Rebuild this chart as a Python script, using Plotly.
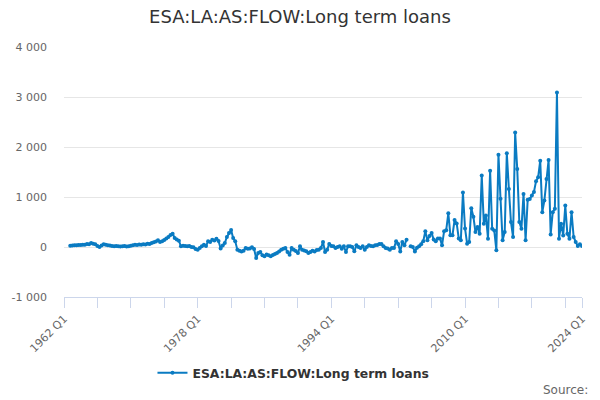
import pandas as pd
import plotly.graph_objs as go


series_name = 'ESA:LA:AS:FLOW:Long term loans'
start_quarter = '1962Q4'

# quarterly flows, 1962 Q4 .. 2024 Q1 (None = missing quarter)
long_term_loans = [
    27, 30, 33, 35, 40, 38, 45, 47, 60, 55, 80, 65, 53, 20, 0, 30, 53, 45, 35, 30,
    20, 13, 20, 15, 10, 13, 20, 10, 13, 25, 35, 47, 40, 50, 47, 55, 50, 67, 60, 80,
    93, 110, 133, 100, 113, 140, 170, 200, 240, 267, 180, 150, 127, 13, 27, 20, 13, 20, 0, -7,
    -40, -53, -20, 13, 47, 20, 113, 100, 147, 130, 167, 120, -30, 30, 80, 200, 280, 340, 180, 113,
    -53, -73, -90, -73, -20, -33, -30, -7, -40, -220, -120, -100, -167, -187, -150, -167, -187, -160, -140, -120,
    -90, -53, -33, -20, -100, -153, -20, -53, -80, -120, 13, -53, -70, -87, -120, -100, -73, -90, -60, -53,
    -20, 100, -100, -53, 60, 20, 13, -20, 0, 13, -33, 13, -100, 13, 13, 0, -87, 33, 0, -20,
    13, -53, 0, 33, 20, 13, 33, 40, 60, 60, 13, -20, -30, -53, -20, -20, 113, 60, -90, 100,
    33, 147, None, 13, 0, -90, -13, 13, 54, 115, 317, 135, 220, 280, 150, 115, 170, 170, 34, 317,
    337, 675, 236, 236, 540, 472, 170, 135, 1090, 371, 67, 100, 776, 607, 300, 400, 266, 1428, 465, 630,
    166, 1527, 365, 332, -66, 1846, 963, 133, 300, 1873, 1162, 500, 200, 2290, 1560, 500, 365, 1062, 133, 943,
    960, 1030, 1100, 1315, 1394, 1726, 697, 930, 1361, 1740, 252, 697, 763, 3088, 166, 465, 232, 830, 266, 166,
    697, 200, 100, 20, 53, 20,
]

quarters = pd.period_range(start_quarter, periods=len(long_term_loans), freq='Q').to_timestamp()

x_tick_dates = ['1962-01-01', '1978-01-01', '1994-01-01', '2010-01-01', '2024-01-01']
x_tick_labels = ['1962 Q1', '1978 Q1', '1994 Q1', '2010 Q1', '2024 Q1']
x_minor_dates = ['%d-01-01' % y for y in range(1966, 2024, 4)]
y_tick_values = [-1000, 0, 1000, 2000, 3000, 4000]
y_tick_labels = ['-1 000', '0', '1 000', '2 000', '3 000', '4 000']

line_blue = '#0a7bc2'
axis_blue = '#ccd6eb'

data = [
    go.Scatter(
        name=series_name,
        x=quarters,
        y=long_term_loans,
        mode='lines+markers',
        line=dict(color=line_blue, width=2),
        marker=dict(color=line_blue, size=4),
        connectgaps=False,
    )
]

layout = go.Layout(
    title=dict(text=series_name, x=0.5, xanchor='center', y=1 - 17 / 400, yanchor='middle',
               font=dict(family='DejaVu Sans', size=18, color='#333333')),
    width=600,
    height=400,
    margin=dict(l=62, r=18, t=47, b=103),
    paper_bgcolor='white',
    plot_bgcolor='white',
    font=dict(family='DejaVu Sans', size=11, color='#666666'),
    showlegend=True,
    legend=dict(orientation='h', x=0.443, xanchor='center', y=-0.305, yanchor='middle',
                font=dict(size=12.4, color='#333333', weight='bold')),
    xaxis=dict(
        type='date',
        range=['1962-01-01', '2024-01-01'],
        tickmode='array',
        tickvals=x_tick_dates,
        ticktext=x_tick_labels,
        tickangle=-45,
        ticks='outside',
        ticklen=10,
        tickcolor=axis_blue,
        showline=True,
        linecolor=axis_blue,
        showgrid=False,
        zeroline=False,
        minor=dict(tickmode='array', tickvals=x_minor_dates, ticks='outside',
                   ticklen=10, tickcolor=axis_blue, showgrid=False),
    ),
    yaxis=dict(
        range=[-1000, 4000],
        tickmode='array',
        tickvals=y_tick_values,
        ticktext=y_tick_labels,
        gridcolor='#e6e6e6',
        zeroline=False,
        showline=False,
        ticklabelstandoff=16,
    ),
    annotations=[
        dict(text='Source:', xref='paper', yref='paper', x=1.015, y=-0.372,
             xanchor='right', yanchor='middle', showarrow=False,
             font=dict(size=12, color='#666666'))
    ],
)

fig = go.Figure(data=data, layout=layout)
# the page's default body margin would push the 600x400 figure off the window
fig.write_html('out.html', config={'displayModeBar': False},
               post_script="document.body.style.margin='0';")
